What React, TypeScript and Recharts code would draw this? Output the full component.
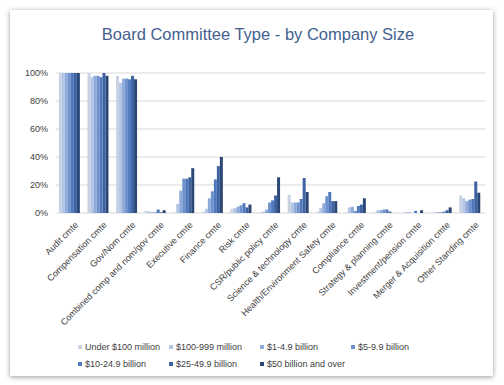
import React from 'react';
import { BarChart, Bar, XAxis, YAxis, CartesianGrid } from 'recharts';

const categories = [
  'Audit cmte',
  'Compensation cmte',
  'Gov/Nom cmte',
  'Combined comp and nom/gov cmte',
  'Executive cmte',
  'Finance cmte',
  'Risk cmte',
  'CSR/public policy cmte',
  'Science & technology cmte',
  'Health/Environment Safety cmte',
  'Compliance cmte',
  'Strategy & planning cmte',
  'Investment/pension cmte',
  'Merger & Acquisition cmte',
  'Other Standing cmte',
];

const seriesNames = [
  'Under $100 million',
  '$100-999 million',
  '$1-4.9 billion',
  '$5-9.9 billion',
  '$10-24.9 billion',
  '$25-49.9 billion',
  '$50 billion and over',
];

const seriesColors = ['#c9d2e3', '#b3c6e6', '#8eaadb', '#6f92cd', '#5079bd', '#3d63a2', '#2b4775'];

// values per committee, one array per company size (percent)
const under100m = [100, 100, 98, 1.5, 0.5, 1, 3, 0.5, 13, 1, 0.5, 0.5, 0.3, 0, 12.5];
const m100to999 = [100, 97, 93, 1, 6.5, 3, 3.5, 1, 7.5, 3.5, 4, 2, 0.7, 0.5, 10.5];
const b1to4_9 = [100, 98, 96, 0.5, 16, 10.5, 4.5, 2.5, 7.5, 7, 4.5, 2, 0.5, 0.5, 8.5];
const b5to9_9 = [100, 98, 96, 0.5, 24.5, 15.5, 5.5, 7.5, 7.5, 12, 1.5, 2.5, 0, 0.5, 9.5];
const b10to24_9 = [100, 97, 95.5, 2.5, 24.5, 24, 7, 9, 10, 15, 5, 2.5, 1.5, 1, 10];
const b25to49_9 = [100, 100, 98, 0.5, 25.5, 33.5, 4, 12.5, 25, 8.5, 6, 1, 0, 2, 22.5];
const b50plus = [100, 98, 95.5, 2, 32, 40, 6, 25.5, 15, 8.5, 10.5, 0, 2, 4, 14.5];

const seriesValues = [under100m, m100to999, b1to4_9, b5to9_9, b10to24_9, b25to49_9, b50plus];

const yTicks = [0, 10, 20, 30, 40, 50, 60, 70, 80, 90, 100];

const data = categories.map((name, i) => {
  const row: Record<string, string | number> = { name };
  seriesNames.forEach((s, j) => {
    row['s' + j] = seriesValues[j][i];
  });
  return row;
});

export default function App() {
  return (
    <div style={{ position: 'absolute', left: 0, top: 0, width: 504, height: 385, background: '#fff', overflow: 'hidden', fontFamily: 'Liberation Sans, Arial, sans-serif' }}>
      <div
        style={{
          position: 'absolute',
          left: 10,
          top: 10,
          width: 483,
          height: 366,
          background: '#fff',
          boxShadow: '0 1px 5px rgba(0,0,0,0.4)',
        }}
      />
      <div
        style={{
          position: 'absolute',
          left: 0,
          width: 516,
          top: 25,
          textAlign: 'center',
          fontSize: 16.5,
          color: '#44618f',
        }}
      >
        Board Committee Type - by Company Size
      </div>
      <div style={{ position: 'absolute', left: 0, top: 0 }}>
        <BarChart
          width={504}
          height={385}
          data={data}
          margin={{ top: 73, right: 19, bottom: 0, left: 0 }}
          barCategoryGap="10%"
          barGap={0}
        >
          <CartesianGrid vertical={false} stroke="#d9d9d9" strokeWidth={1} />
          <XAxis
            dataKey="name"
            height={172}
            interval={0}
            axisLine={false}
            tickLine={false}
            angle={-45}
            textAnchor="end"
            tick={{ fontSize: 9, fill: '#404040' }}
            dx={4}
          />
          <YAxis
            width={56}
            domain={[0, 100]}
            ticks={yTicks}
            axisLine={false}
            tickLine={false}
            tickFormatter={(v: number) => v + '%'}
            tick={{ fontSize: 9, fill: '#404040' }}
          />
          {seriesNames.map((s, j) => (
            <Bar key={s} dataKey={'s' + j} name={s} fill={seriesColors[j]} isAnimationActive={false} />
          ))}
        </BarChart>
      </div>
      <div
        style={{
          position: 'absolute',
          left: 78,
          top: 341,
          width: 380,
          display: 'grid',
          gridTemplateColumns: '91px 91px 91px 91px',
          rowGap: 5,
          fontSize: 9,
          color: '#404040',
          lineHeight: '12px',
        }}
      >
        {seriesNames.map((s, j) => (
          <div key={s} style={{ display: 'flex', alignItems: 'center', whiteSpace: 'nowrap' }}>
            <span style={{ display: 'inline-block', width: 4, height: 4, background: seriesColors[j], marginRight: 3 }} />
            {s}
          </div>
        ))}
      </div>
    </div>
  );
}
